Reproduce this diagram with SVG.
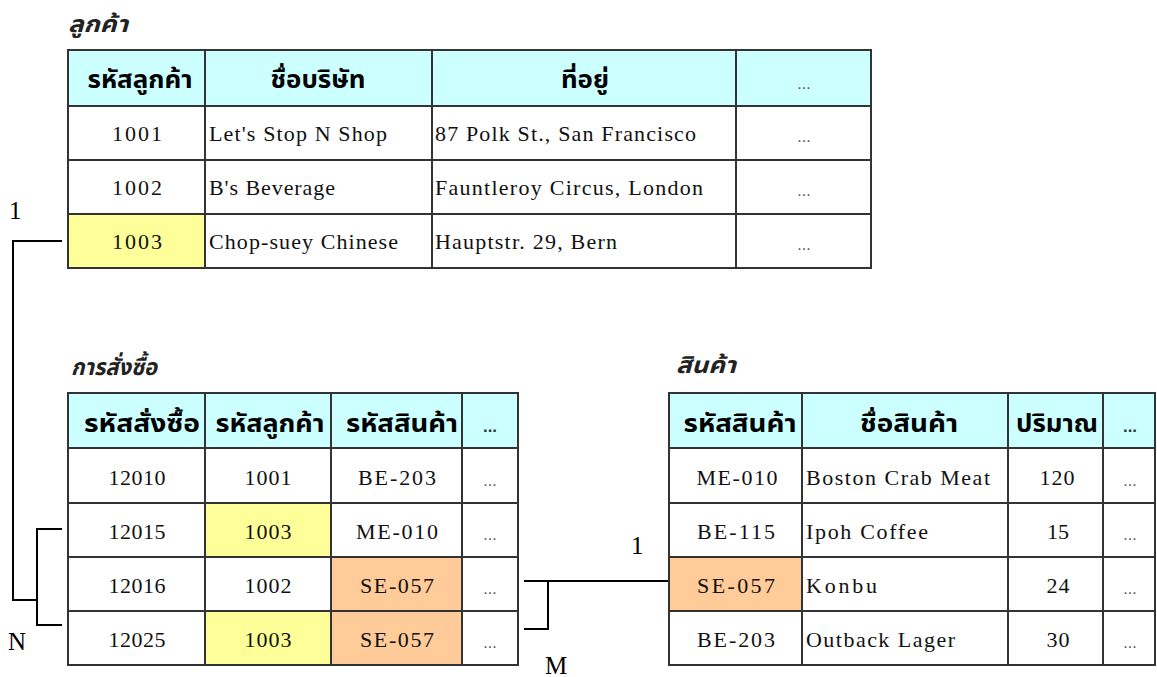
<svg xmlns="http://www.w3.org/2000/svg" width="1157" height="677" viewBox="0 0 1157 677">
<style>
.bg{fill:#ffffff}
.hd{fill:#ccffff;stroke:#333;stroke-width:2}
.cl{fill:#ffffff;stroke:#333;stroke-width:2}
.ye{fill:#ffff99;stroke:#333;stroke-width:2}
.or{fill:#ffcc99;stroke:#333;stroke-width:2}
.th{font-family:"Noto Sans Thai","Noto Sans","DejaVu Sans",sans-serif;font-weight:bold;font-size:24px;fill:#000;text-anchor:middle}
.tt{font-family:"Noto Sans Thai","Noto Sans","DejaVu Sans",sans-serif;font-weight:bold;font-style:italic;font-size:23px;fill:#222}
.d{font-family:"Liberation Serif",serif;font-size:22px;fill:#111}
.c{text-anchor:middle}
.dot{font-family:"Liberation Sans",sans-serif;font-size:16px;fill:#555;text-anchor:middle}
.dotb{font-family:"Liberation Sans",sans-serif;font-size:17px;font-weight:bold;fill:#333;text-anchor:middle}
.lb{font-family:"Liberation Serif",serif;font-size:25px;fill:#000}
.cn{fill:none;stroke:#000;stroke-width:2}
</style>
<rect class="bg" x="0" y="0" width="1157" height="677"/>

<g id="customers">
<text class="tt" x="68" y="32" textLength="60" lengthAdjust="spacingAndGlyphs">ลูกค้า</text>
<rect class="hd" x="68" y="50" width="137" height="56"/>
<rect class="hd" x="205" y="50" width="227" height="56"/>
<rect class="hd" x="432" y="50" width="304" height="56"/>
<rect class="hd" x="736" y="50" width="135" height="56"/>
<text class="th" x="140" y="88" textLength="105" lengthAdjust="spacingAndGlyphs">รหัสลูกค้า</text>
<text class="th" x="318" y="88" textLength="95" lengthAdjust="spacingAndGlyphs">ชื่อบริษัท</text>
<text class="th" x="585" y="88" textLength="48" lengthAdjust="spacingAndGlyphs">ที่อยู่</text>
<text class="dot" x="804" y="89">...</text>

<rect class="cl" x="68" y="106" width="137" height="54"/>
<rect class="cl" x="205" y="106" width="227" height="54"/>
<rect class="cl" x="432" y="106" width="304" height="54"/>
<rect class="cl" x="736" y="106" width="135" height="54"/>
<rect class="cl" x="68" y="160" width="137" height="54"/>
<rect class="cl" x="205" y="160" width="227" height="54"/>
<rect class="cl" x="432" y="160" width="304" height="54"/>
<rect class="cl" x="736" y="160" width="135" height="54"/>
<rect class="ye" x="68" y="214" width="137" height="54"/>
<rect class="cl" x="205" y="214" width="227" height="54"/>
<rect class="cl" x="432" y="214" width="304" height="54"/>
<rect class="cl" x="736" y="214" width="135" height="54"/>

<text class="d c" x="137" y="141" textLength="50">1001</text>
<text class="d" x="209" y="141" textLength="178">Let's Stop N Shop</text>
<text class="d" x="435" y="141" textLength="261">87 Polk St., San Francisco</text>
<text class="dot" x="804" y="142">...</text>
<text class="d c" x="137" y="195" textLength="50">1002</text>
<text class="d" x="209" y="195" textLength="126">B's Beverage</text>
<text class="d" x="435" y="195" textLength="268">Fauntleroy Circus, London</text>
<text class="dot" x="804" y="196">...</text>
<text class="d c" x="137" y="249" textLength="50">1003</text>
<text class="d" x="209" y="249" textLength="189">Chop-suey Chinese</text>
<text class="d" x="435" y="249" textLength="182">Hauptstr. 29, Bern</text>
<text class="dot" x="804" y="250">...</text>
</g>

<g id="orders">
<text class="tt" x="71" y="375" textLength="86" lengthAdjust="spacingAndGlyphs">การสั่งซื้อ</text>
<rect class="hd" x="68" y="393" width="137" height="55"/>
<rect class="hd" x="205" y="393" width="126" height="55"/>
<rect class="hd" x="331" y="393" width="131" height="55"/>
<rect class="hd" x="462" y="393" width="56" height="55"/>
<text class="th" x="142" y="432" textLength="116" lengthAdjust="spacingAndGlyphs">รหัสสั่งซื้อ</text>
<text class="th" x="270" y="432" textLength="109" lengthAdjust="spacingAndGlyphs">รหัสลูกค้า</text>
<text class="th" x="402" y="432" textLength="112" lengthAdjust="spacingAndGlyphs">รหัสสินค้า</text>
<text class="dotb" x="490" y="432">...</text>

<rect class="cl" x="68" y="448" width="137" height="55"/>
<rect class="cl" x="205" y="448" width="126" height="55"/>
<rect class="cl" x="331" y="448" width="131" height="55"/>
<rect class="cl" x="462" y="448" width="56" height="55"/>
<rect class="cl" x="68" y="503" width="137" height="54"/>
<rect class="ye" x="205" y="503" width="126" height="54"/>
<rect class="cl" x="331" y="503" width="131" height="54"/>
<rect class="cl" x="462" y="503" width="56" height="54"/>
<rect class="cl" x="68" y="557" width="137" height="54"/>
<rect class="cl" x="205" y="557" width="126" height="54"/>
<rect class="or" x="331" y="557" width="131" height="54"/>
<rect class="cl" x="462" y="557" width="56" height="54"/>
<rect class="cl" x="68" y="611" width="137" height="54"/>
<rect class="ye" x="205" y="611" width="126" height="54"/>
<rect class="or" x="331" y="611" width="131" height="54"/>
<rect class="cl" x="462" y="611" width="56" height="54"/>

<text class="d c" x="137" y="485" textLength="57">12010</text>
<text class="d c" x="268" y="485" textLength="47">1001</text>
<text class="d c" x="397" y="485" textLength="78">BE-203</text>
<text class="dot" x="490" y="486">...</text>
<text class="d c" x="137" y="539" textLength="57">12015</text>
<text class="d c" x="268" y="539" textLength="47">1003</text>
<text class="d c" x="397" y="539" textLength="82">ME-010</text>
<text class="dot" x="490" y="540">...</text>
<text class="d c" x="137" y="593" textLength="57">12016</text>
<text class="d c" x="268" y="593" textLength="47">1002</text>
<text class="d c" x="397" y="593" textLength="74">SE-057</text>
<text class="dot" x="490" y="594">...</text>
<text class="d c" x="137" y="647" textLength="57">12025</text>
<text class="d c" x="268" y="647" textLength="47">1003</text>
<text class="d c" x="397" y="647" textLength="74">SE-057</text>
<text class="dot" x="490" y="648">...</text>
</g>

<g id="products">
<text class="tt" x="676" y="373" textLength="60" lengthAdjust="spacingAndGlyphs">สินค้า</text>
<rect class="hd" x="669" y="393" width="133" height="55"/>
<rect class="hd" x="802" y="393" width="206" height="55"/>
<rect class="hd" x="1008" y="393" width="95" height="55"/>
<rect class="hd" x="1103" y="393" width="52" height="55"/>
<text class="th" x="740" y="432" textLength="113" lengthAdjust="spacingAndGlyphs">รหัสสินค้า</text>
<text class="th" x="909" y="432" textLength="98" lengthAdjust="spacingAndGlyphs">ชื่อสินค้า</text>
<text class="th" x="1057" y="432" textLength="82" lengthAdjust="spacingAndGlyphs">ปริมาณ</text>
<text class="dotb" x="1130" y="432">...</text>

<rect class="cl" x="669" y="448" width="133" height="55"/>
<rect class="cl" x="802" y="448" width="206" height="55"/>
<rect class="cl" x="1008" y="448" width="95" height="55"/>
<rect class="cl" x="1103" y="448" width="52" height="55"/>
<rect class="cl" x="669" y="503" width="133" height="54"/>
<rect class="cl" x="802" y="503" width="206" height="54"/>
<rect class="cl" x="1008" y="503" width="95" height="54"/>
<rect class="cl" x="1103" y="503" width="52" height="54"/>
<rect class="or" x="669" y="557" width="133" height="54"/>
<rect class="cl" x="802" y="557" width="206" height="54"/>
<rect class="cl" x="1008" y="557" width="95" height="54"/>
<rect class="cl" x="1103" y="557" width="52" height="54"/>
<rect class="cl" x="669" y="611" width="133" height="54"/>
<rect class="cl" x="802" y="611" width="206" height="54"/>
<rect class="cl" x="1008" y="611" width="95" height="54"/>
<rect class="cl" x="1103" y="611" width="52" height="54"/>

<text class="d c" x="737" y="485" textLength="81">ME-010</text>
<text class="d" x="806" y="485" textLength="184">Boston Crab Meat</text>
<text class="d c" x="1057" y="485" textLength="35">120</text>
<text class="dot" x="1130" y="486">...</text>
<text class="d c" x="736" y="539" textLength="78">BE-115</text>
<text class="d" x="806" y="539" textLength="122">Ipoh Coffee</text>
<text class="d c" x="1058" y="539" textLength="22">15</text>
<text class="dot" x="1130" y="540">...</text>
<text class="d c" x="736" y="593" textLength="78">SE-057</text>
<text class="d" x="806" y="593" textLength="71">Konbu</text>
<text class="d c" x="1058" y="593" textLength="23">24</text>
<text class="dot" x="1130" y="594">...</text>
<text class="d c" x="736" y="647" textLength="78">BE-203</text>
<text class="d" x="806" y="647" textLength="149">Outback Lager</text>
<text class="d c" x="1058" y="647" textLength="23">30</text>
<text class="dot" x="1130" y="648">...</text>
</g>

<g id="connectors">
<polyline class="cn" points="62,241 13,241 13,600 37,600"/>
<polyline class="cn" points="62,529 37,529 37,625 62,625"/>
<line class="cn" x1="524" y1="581" x2="668" y2="581"/>
<polyline class="cn" points="548,581 548,629 524,629"/>
<text class="lb" x="9" y="219">1</text>
<text class="lb" x="8" y="650">N</text>
<text class="lb" x="631" y="554">1</text>
<text class="lb" x="545" y="674">M</text>
</g>
</svg>
